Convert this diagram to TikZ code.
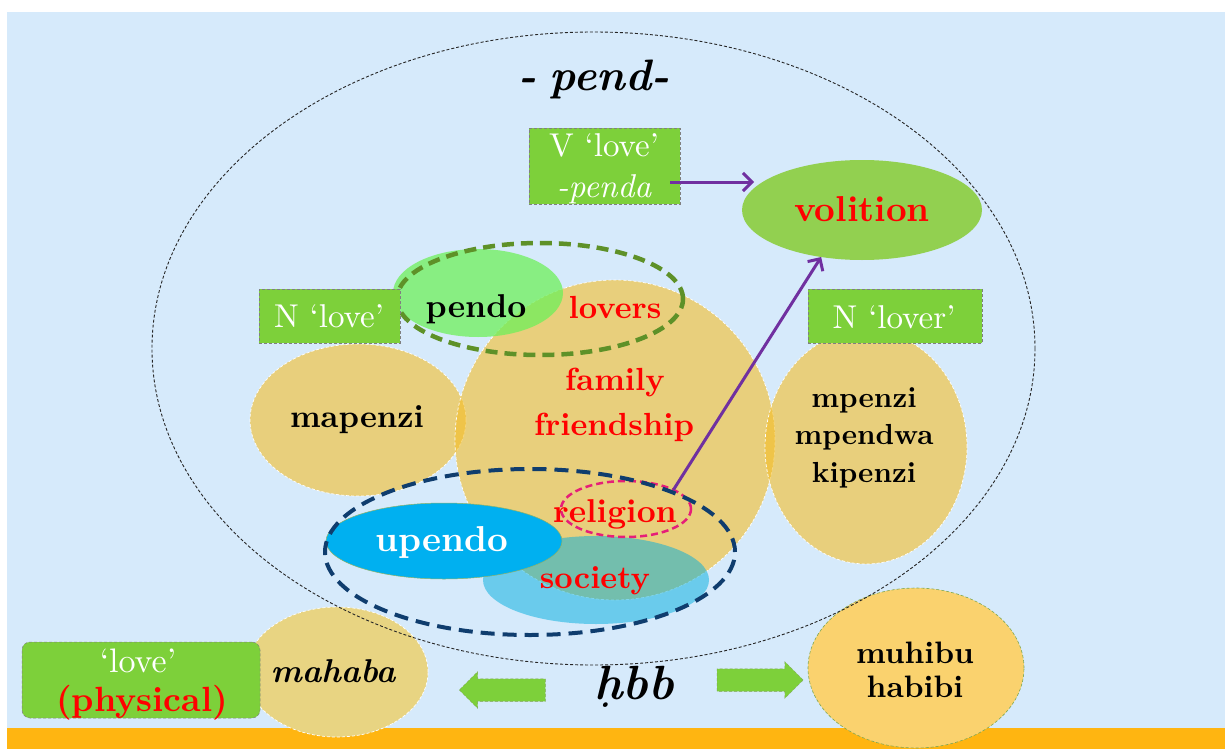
\documentclass[tikz,border=0pt]{standalone}
\usepackage{fontspec}
\setmainfont{lmroman10-regular.otf}[BoldFont=lmroman10-bold.otf, ItalicFont=lmroman10-italic.otf, BoldItalicFont=lmroman10-bolditalic.otf]
\usetikzlibrary{shapes.geometric,shapes.arrows,arrows.meta}
\definecolor{bgblue}{RGB}{214,234,251}
\definecolor{boxgreen}{RGB}{125,208,58}
\definecolor{volgreen}{RGB}{146,208,80}
\definecolor{tanfill}{RGB}{245,190,40}
\definecolor{pendogreen}{RGB}{110,240,90}
\definecolor{darkolive}{RGB}{94,145,40}
\definecolor{navyd}{RGB}{15,61,110}
\definecolor{pinkd}{RGB}{230,30,120}
\definecolor{cyanup}{RGB}{0,176,240}
\definecolor{socblue}{RGB}{0,174,222}
\definecolor{purp}{RGB}{112,48,160}
\definecolor{barorange}{RGB}{255,181,17}
\definecolor{mahabatan}{RGB}{232,212,130}
\definecolor{muhibuy}{RGB}{250,210,110}
\begin{document}
\begin{tikzpicture}[x=1pt,y=-1pt,
 ell/.style={ellipse, inner sep=0pt, outer sep=0pt},
 tanell/.style={ell, fill=tanfill, fill opacity=0.6, draw=white, densely dashed, line width=0.7pt},
 gbox/.style={rectangle, inner sep=0pt, outer sep=0pt, fill=boxgreen, draw=black!50, densely dashed, line width=0.5pt},
 lbl/.style={inner sep=0pt, outer sep=0pt, anchor=base, font=\fontsize{32}{38}\selectfont\bfseries},
 redlbl/.style={lbl, text=red},
 wlbl/.style={inner sep=0pt, outer sep=0pt, anchor=base, text=white, font=\fontsize{33}{38}\selectfont},
 parrow/.style={draw=purp, line width=3pt, -{Straight Barb[length=9pt,width=18pt]}},
 fatarrow/.style={single arrow, fill=boxgreen, draw=darkolive!80, densely dashed, line width=0.5pt, inner xsep=0pt, inner ysep=11pt, single arrow head extend=7pt, minimum height=86pt, outer sep=0pt}
]
\useasboundingbox (0,0) rectangle (1225,749);
\fill[white] (0,0) rectangle (1225,749);
\fill[bgblue] (7,12) rectangle (1225,728);
\fill[barorange] (7,728) rectangle (1225,749);

% volition and V box
\node[ell, fill=volgreen, minimum width=240pt, minimum height=100pt] (volition) at (862,210) {};
\node[gbox, minimum width=151pt, minimum height=76pt] (vbox) at (604.5,166) {};

% tan ellipses
\node[tanell, minimum width=216pt, minimum height=152pt] (mapenziell) at (358,420) {};
\node[tanell, minimum width=320pt, minimum height=320pt] (bigtan) at (615,440) {};
\node[tanell, minimum width=202pt, minimum height=234pt] (mpenziell) at (866,447) {};

% pendo
\node[ell, fill=pendogreen, fill opacity=0.75, minimum width=170pt, minimum height=88pt] (pendoell) at (478,293) {};
\node[ell, draw=darkolive, line width=4.5pt, dash pattern=on 12pt off 7pt, minimum width=286pt, minimum height=112pt] (pendoring) at (540,299) {};

% N boxes
\node[gbox, minimum width=141pt, minimum height=54pt] (nlove) at (329.5,316) {};
\node[gbox, minimum width=174pt, minimum height=54pt] (nlover) at (895,316) {};

% lower group
\node[ell, fill=socblue, fill opacity=0.5, minimum width=226pt, minimum height=88pt] (societyell) at (596,580) {};
\node[ell, fill=cyanup, draw=darkolive!70, line width=0.5pt, minimum width=236pt, minimum height=76pt] (upendoell) at (444,541) {};
\node[ell, draw=pinkd, line width=2.5pt, dash pattern=on 7pt off 4pt, minimum width=130pt, minimum height=56pt] (religionring) at (626,509) {};
\node[ell, draw=navyd, line width=4pt, dash pattern=on 14pt off 8pt, minimum width=410pt, minimum height=166pt] (navyring) at (530,552) {};

% bottom row
\node[ell, fill=mahabatan, draw=white, densely dashed, line width=0.7pt, minimum width=182pt, minimum height=130pt] (mahabaell) at (337,672) {};
\node[gbox, rounded corners=8pt, minimum width=238pt, minimum height=76pt] (lovebox) at (141,680) {};
\node[ell, fill=muhibuy, draw=darkolive!80, densely dashed, line width=0.6pt, minimum width=216pt, minimum height=160pt] (muhibuell) at (916,668) {};
\node[fatarrow, shape border rotate=180] (larr) at (508,690) {};
\node[fatarrow] (rarr) at (754.5,680) {};

% big outer ellipse
\node[ell, draw=black!85, densely dashed, line width=0.9pt, minimum width=883pt, minimum height=633pt] (outer) at (593.5,348.5) {};

% texts
\node[lbl, font=\fontsize{44}{50}\selectfont\bfseries\itshape] (title) at (594,91) {-\kern0.3em pend-};
\node[wlbl] (vlove) at (604,157) {V ‘love’};
\node[wlbl, font=\fontsize{33}{38}\selectfont\itshape] (penda) at (604,197) {-penda};
\node[redlbl, font=\fontsize{36}{40}\selectfont\bfseries] (voltxt) at (862,221) {volition};
\node[wlbl] (nlovetxt) at (329,327) {N ‘love’};
\node[wlbl] (nlovertxt) at (894,328) {N ‘lover’};
\node[lbl, font=\fontsize{33}{38}\selectfont\bfseries] (pendotxt) at (476,317) {pendo};
\node[redlbl] (loverstxt) at (615,318) {lovers};
\node[redlbl] (familytxt) at (615,390) {family};
\node[redlbl] (friendtxt) at (614,435) {friendship};
\node[lbl] (mapenzitxt) at (357,427) {mapenzi};
\node[lbl, font=\fontsize{29}{36}\selectfont\bfseries] (mpenzitxt) at (864,407) {mpenzi};
\node[lbl, font=\fontsize{29}{36}\selectfont\bfseries] (mpendwatxt) at (864,444) {mpendwa};
\node[lbl, font=\fontsize{29}{36}\selectfont\bfseries] (kipenzitxt) at (864,482) {kipenzi};
\node[redlbl, font=\fontsize{33}{38}\selectfont\bfseries] (religiontxt) at (615,522) {religion};
\node[lbl, text=white, font=\fontsize{36}{40}\selectfont\bfseries] (upendotxt) at (442,551) {upendo};
\node[redlbl] (societytxt) at (595,588) {society};
\node[wlbl, font=\fontsize{34}{38}\selectfont] (lovetxt) at (138,672) {‘love’};
\node[redlbl, font=\fontsize{35}{40}\selectfont\bfseries] (physicaltxt) at (142,711) {(physical)};
\node[lbl, font=\fontsize{33}{38}\selectfont\bfseries\itshape] (mahabatxt) at (333,682) {mahaba};
\node[lbl, font=\fontsize{48}{52}\selectfont\bfseries\itshape] (hbbtxt) at (634,699) {\ooalign{h\cr\kern0.1em\raisebox{-0.18em}{\fontsize{32}{32}\selectfont.}\hfil\cr}bb};
\node[lbl, font=\fontsize{31}{36}\selectfont\bfseries] (muhibutxt) at (915,663) {muhibu};
\node[lbl, font=\fontsize{31}{36}\selectfont\bfseries] (habibitxt) at (915,697) {habibi};

% purple connectors
\draw[parrow] ([shift={(-10,16)}]vbox.east) -- ([shift={(12,-28)}]volition.west);
\draw[parrow] (religionring.22) -- (volition.229);
\end{tikzpicture}
\end{document}
